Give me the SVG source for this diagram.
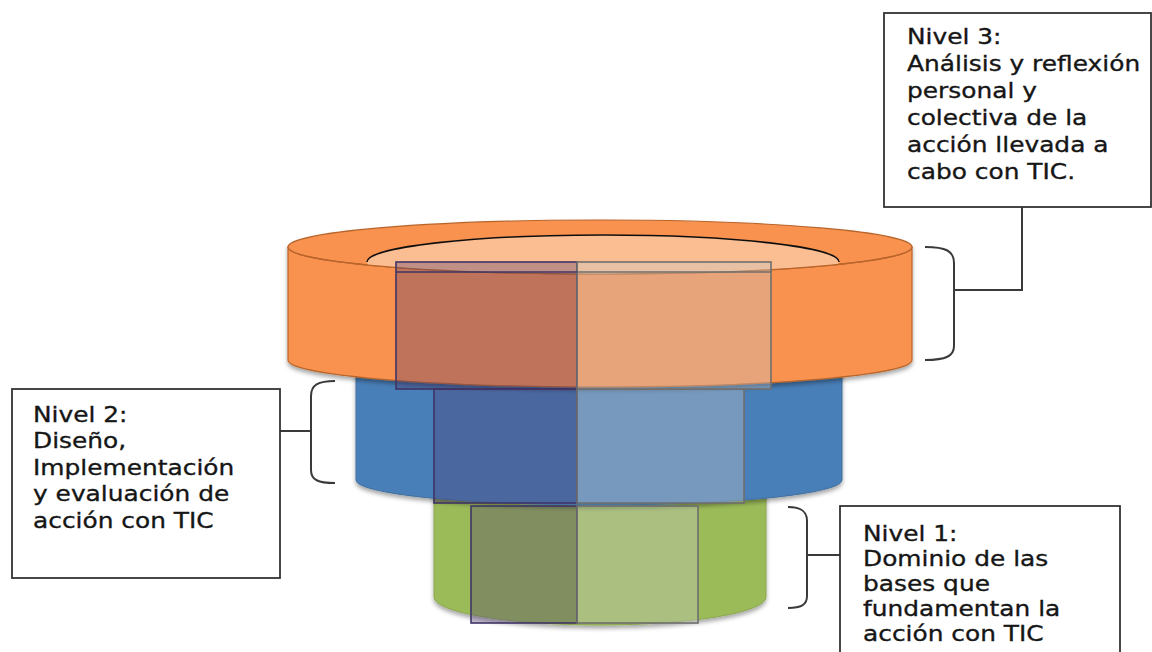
<svg xmlns="http://www.w3.org/2000/svg" width="1152" height="652" viewBox="0 0 1152 652">
<style>
.box{fill:#fff;stroke:#333;stroke-width:1.8}
.brk{fill:none;stroke:#3a3a3a;stroke-width:2}
.lbl{font-family:"DejaVu Sans",Verdana,sans-serif;font-size:22px;fill:#161616;stroke:#161616;stroke-width:0.35}
.ovd{fill:#503c6e;fill-opacity:0.34;stroke:#3f3466;stroke-width:1.6}
.ovl{fill:#c8c8c8;fill-opacity:0.36;stroke:#6e6e6e;stroke-width:1.6}
</style>
<defs>
<filter id="sh" x="-10%" y="-10%" width="120%" height="130%">
<feDropShadow dx="0" dy="3" stdDeviation="2" flood-color="#000" flood-opacity="0.35"/>
</filter>
<clipPath id="topclip"><ellipse cx="600" cy="247" rx="312" ry="27"/></clipPath>
</defs>
<rect width="1152" height="652" fill="#fff"/>

<g id="cyl-green" filter="url(#sh)">
<path d="M434,490 L434,597 A166,28 0 0 0 766,597 L766,490 Z" fill="#9bbb59" stroke="#8aa74f" stroke-width="1"/>
</g>
<g id="cyl-blue" filter="url(#sh)">
<path d="M356,372 L356,480 A243,25 0 0 0 842,480 L842,372 Z" fill="#4a7fb8" stroke="#41709f" stroke-width="1"/>
</g>
<g id="cyl-orange" filter="url(#sh)">
<path d="M288,247 L288,360 A312,27 0 0 0 912,360 L912,247 Z" fill="#f9914f" stroke="#b8652c" stroke-width="1.2"/>
<ellipse cx="600" cy="247" rx="312" ry="27" fill="#f9914f" stroke="#b8652c" stroke-width="1.2"/>
<ellipse cx="603" cy="262" rx="236" ry="27" fill="#fbbd92" clip-path="url(#topclip)"/>
<path d="M367,262 A236,27 0 0 1 839,262" fill="none" stroke="#111" stroke-width="1.6"/>
<path d="M288,247 A312,27 0 0 0 912,247" fill="none" stroke="#b8652c" stroke-width="1.2"/>
</g>

<g id="overlay-green">
<rect class="ovd" x="471" y="506" width="106" height="117"/>
<rect class="ovl" x="577" y="506" width="121" height="117"/>
</g>
<g id="overlay-blue">
<rect class="ovd" x="434" y="389" width="143" height="114"/>
<rect class="ovl" x="577" y="389" width="167" height="114"/>
</g>
<g id="overlay-orange">
<rect class="ovd" x="396" y="262" width="181" height="127"/>
<rect class="ovl" x="577" y="262" width="194" height="127"/>
<line x1="396" y1="272" x2="577" y2="272" stroke="#3f3466" stroke-width="1.4"/>
<line x1="577" y1="272" x2="771" y2="272" stroke="#6e6e6e" stroke-width="1.4"/>
</g>

<g id="connectors">
<path class="brk" d="M925,247 C946,247 954,251 954,263 L954,346 C954,356 946,360 925,360"/>
<path class="brk" d="M954,290 L1022,290 L1022,207"/>
<path class="brk" d="M335,381 C318,381 311,385 311,396 L311,470 C311,480 318,483 335,483"/>
<path class="brk" d="M311,431 L280,431"/>
<path class="brk" d="M788,507 C801,507 807,511 807,521 L807,596 C807,605 801,608 788,608"/>
<path class="brk" d="M807,555 L840,555"/>
</g>

<g id="node-nivel3">
<rect class="box" x="884" y="13" width="267" height="194"/>
<text class="lbl" transform="translate(907,0) scale(1.13,1)">
<tspan x="0" y="44">Nivel 3:</tspan>
<tspan x="0" y="71">Análisis y reflexión</tspan>
<tspan x="0" y="98">personal y</tspan>
<tspan x="0" y="125">colectiva de la</tspan>
<tspan x="0" y="152">acción llevada a</tspan>
<tspan x="0" y="179">cabo con TIC.</tspan>
</text>
</g>
<g id="node-nivel2">
<rect class="box" x="12" y="389" width="268" height="189"/>
<text class="lbl" transform="translate(33,0) scale(1.13,1)">
<tspan x="0" y="422">Nivel 2:</tspan>
<tspan x="0" y="448.5">Diseño,</tspan>
<tspan x="0" y="475">Implementación</tspan>
<tspan x="0" y="501.5">y evaluación de</tspan>
<tspan x="0" y="528">acción con TIC</tspan>
</text>
</g>
<g id="node-nivel1">
<rect class="box" x="840" y="506" width="280" height="160"/>
<text class="lbl" transform="translate(863,0) scale(1.13,1)">
<tspan x="0" y="541">Nivel 1:</tspan>
<tspan x="0" y="566">Dominio de las</tspan>
<tspan x="0" y="591">bases que</tspan>
<tspan x="0" y="616">fundamentan la</tspan>
<tspan x="0" y="641">acción con TIC</tspan>
</text>
</g>
</svg>
